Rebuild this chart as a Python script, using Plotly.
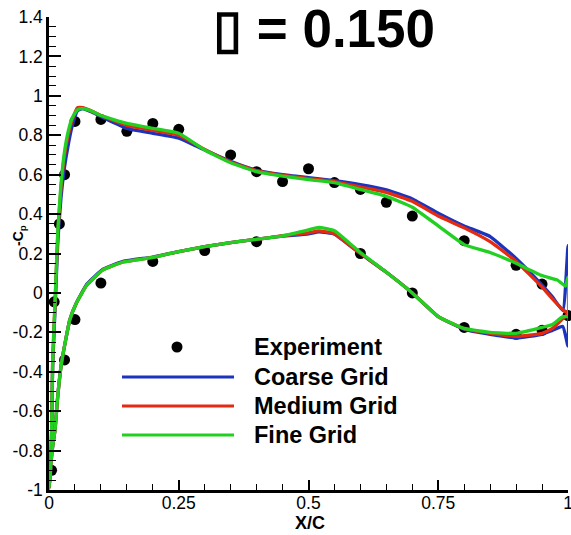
import plotly.graph_objects as go

# ---------------- data ----------------
# Experimental pressure coefficient (-Cp) on both surfaces
EXP_X = [0.005, 0.01, 0.02, 0.03, 0.05, 0.10, 0.15, 0.20, 0.25, 0.35, 0.40, 0.45, 0.50,
         0.55, 0.60, 0.65, 0.70, 0.80, 0.90, 0.95, 1.00,
         0.03, 0.05, 0.10, 0.20, 0.30, 0.40, 0.60, 0.70, 0.80, 0.90, 0.95]
EXP_CP = [-0.90, -0.045, 0.35, 0.60, 0.87, 0.88, 0.82, 0.86, 0.83, 0.70, 0.615, 0.565, 0.63,
          0.56, 0.525, 0.46, 0.39, 0.265, 0.14, 0.045, -0.115,
          -0.34, -0.135, 0.05, 0.16, 0.215, 0.26, 0.20, 0.0, -0.175, -0.21, -0.19]

# Upper-surface stations (leading edge -> trailing edge)
XU = [0.0, 0.003, 0.005, 0.007, 0.012, 0.017, 0.023, 0.03, 0.037, 0.045, 0.055, 0.065,
      0.08, 0.1, 0.15, 0.2, 0.25, 0.3, 0.35, 0.4, 0.45, 0.5, 0.55, 0.6, 0.65, 0.7, 0.75,
      0.8, 0.85, 0.9, 0.95]
# Lower-surface stations (leading edge -> trailing edge)
XL = [0.0, 0.003, 0.007, 0.0116, 0.017, 0.024, 0.032, 0.04, 0.053, 0.073, 0.104, 0.143,
      0.2, 0.25, 0.3, 0.35, 0.4, 0.45, 0.5, 0.52, 0.55, 0.58, 0.6, 0.65, 0.7, 0.75, 0.8,
      0.85, 0.9, 0.95]

COARSE_U = [-0.99, -0.9, -0.72, -0.38, -0.06, 0.26, 0.48, 0.64, 0.75, 0.85, 0.925, 0.935,
            0.92, 0.895, 0.835, 0.81, 0.785, 0.725, 0.668, 0.622, 0.60, 0.585, 0.57, 0.55,
            0.523, 0.477, 0.405, 0.34, 0.286, 0.175, 0.04]
MEDIUM_U = [-0.99, -0.9, -0.7, -0.35, -0.03, 0.30, 0.53, 0.70, 0.80, 0.88, 0.94, 0.94,
            0.925, 0.90, 0.85, 0.825, 0.80, 0.728, 0.664, 0.62, 0.597, 0.58, 0.565, 0.537,
            0.51, 0.465, 0.39, 0.33, 0.26, 0.16, 0.03]
FINE_U = [-0.99, -0.9, -0.7, -0.35, -0.02, 0.32, 0.55, 0.72, 0.82, 0.89, 0.93, 0.935,
          0.925, 0.90, 0.86, 0.835, 0.81, 0.725, 0.66, 0.615, 0.592, 0.575, 0.56, 0.525,
          0.49, 0.435, 0.34, 0.245, 0.205, 0.15, 0.088]

COARSE_L = [-0.99, -0.88, -0.78, -0.695, -0.52, -0.357, -0.24, -0.137, -0.05, 0.045, 0.12,
            0.16, 0.182, 0.21, 0.235, 0.255, 0.272, 0.288, 0.30, 0.31, 0.298, 0.24, 0.20,
            0.105, 0.0, -0.12, -0.185, -0.21, -0.228, -0.21]
MEDIUM_L = [-0.99, -0.88, -0.78, -0.695, -0.52, -0.357, -0.24, -0.137, -0.05, 0.04, 0.117,
            0.157, 0.18, 0.21, 0.235, 0.255, 0.272, 0.29, 0.305, 0.315, 0.30, 0.24, 0.20,
            0.105, 0.0, -0.12, -0.182, -0.205, -0.22, -0.205]
FINE_L = [-0.99, -0.88, -0.78, -0.695, -0.52, -0.357, -0.24, -0.137, -0.05, 0.04, 0.117,
          0.157, 0.18, 0.21, 0.235, 0.255, 0.272, 0.29, 0.32, 0.333, 0.315, 0.25, 0.205,
          0.105, 0.0, -0.12, -0.18, -0.20, -0.205, -0.175]

# Trailing-edge closure of each solution
COARSE_TE_UX, COARSE_TE_U = [0.97, 0.99, 1.0, 1.0], [-0.02, -0.09, 0.24, -0.27]
COARSE_TE_LX, COARSE_TE_L = [0.97, 0.99, 1.0], [-0.19, -0.17, -0.27]
MEDIUM_TE_UX, MEDIUM_TE_U = [0.97, 0.99, 1.0], [-0.03, -0.085, -0.105]
MEDIUM_TE_LX, MEDIUM_TE_L = [0.97, 0.99, 1.0], [-0.18, -0.13, -0.105]
FINE_TE_UX, FINE_TE_U = [0.98, 0.995, 1.0, 1.0], [0.065, 0.035, 0.08, -0.12]
FINE_TE_LX, FINE_TE_L = [0.97, 0.99, 1.0], [-0.16, -0.12, -0.12]

SERIES = ["Coarse Grid", "Medium Grid", "Fine Grid"]
COLORS = ["#1c34bd", "#e42a10", "#22d022"]

X_TICKS = [0, 0.25, 0.5, 0.75, 1]
X_TICK_TEXT = ["0", "0.25", "0.5", "0.75", "1"]
Y_TICKS = [-1, -0.8, -0.6, -0.4, -0.2, 0, 0.2, 0.4, 0.6, 0.8, 1, 1.2, 1.4]
Y_TICK_TEXT = ["-1", "-0.8", "-0.6", "-0.4", "-0.2", "0", "0.2", "0.4", "0.6", "0.8", "1",
               "1.2", "1.4"]


def loop(xu, cu, teux, teu, xl, cl, telx, tel):
    """Trailing edge -> lower surface -> leading edge -> upper surface -> trailing edge."""
    lx = list(xl) + telx
    lc = list(cl) + tel
    ux = list(xu) + teux
    uc = list(cu) + teu
    return lx[::-1] + ux[1:], lc[::-1] + uc[1:]


curves = [
    loop(XU, COARSE_U, COARSE_TE_UX, COARSE_TE_U, XL, COARSE_L, COARSE_TE_LX, COARSE_TE_L),
    loop(XU, MEDIUM_U, MEDIUM_TE_UX, MEDIUM_TE_U, XL, MEDIUM_L, MEDIUM_TE_LX, MEDIUM_TE_L),
    loop(XU, FINE_U, FINE_TE_UX, FINE_TE_U, XL, FINE_L, FINE_TE_LX, FINE_TE_L),
]

FONT = "Arial, Liberation Sans, Helvetica, sans-serif"

fig = go.Figure()

fig.add_trace(go.Scatter(
    x=EXP_X, y=EXP_CP, mode="markers", name="Experiment",
    marker=dict(color="black", size=11), cliponaxis=False, showlegend=False))

for (cx, cy), name, col in zip(curves, SERIES, COLORS):
    fig.add_trace(go.Scatter(
        x=cx, y=cy, mode="lines", name=name,
        line=dict(color=col, width=3.3, shape="spline", smoothing=0.4),
        showlegend=False))

# ---- hand-laid legend (long line samples) ----
def px_x(p):
    return (p - 49) / 519.0


def px_y(p):
    return (490 - p) / 473.0


rows = [347, 377, 406, 435]
labels = ["Experiment"] + SERIES
shapes = []
annotations = []
shapes.append(dict(type="circle", xref="paper", yref="paper",
                   x0=px_x(171.5), x1=px_x(182.5), y0=px_y(352.5), y1=px_y(341.5),
                   fillcolor="black", line=dict(color="black", width=0)))
for r, col in zip(rows[1:], COLORS):
    shapes.append(dict(type="line", xref="paper", yref="paper",
                       x0=px_x(122), x1=px_x(234), y0=px_y(r), y1=px_y(r),
                       line=dict(color=col, width=3)))
for r, lab in zip(rows, labels):
    annotations.append(dict(text="<b>%s</b>" % lab, xref="paper", yref="paper",
                            x=px_x(252), y=px_y(r), xanchor="left", yanchor="middle",
                            showarrow=False, font=dict(family=FONT, size=23.5, color="black")))

# title
annotations.append(dict(text="<b>\u25af = 0.150</b>", xref="paper", yref="paper",
                        x=px_x(324), y=px_y(29), xanchor="center", yanchor="middle",
                        showarrow=False, font=dict(family=FONT, size=53, color="black")))
# axis titles
annotations.append(dict(text="<b>-C<sub>p</sub></b>", xref="paper", yref="paper",
                        x=px_x(19), y=px_y(236), xanchor="center", yanchor="middle",
                        textangle=-90, showarrow=False,
                        font=dict(family=FONT, size=14, color="black")))
annotations.append(dict(text="<b>X/C</b>", xref="paper", yref="paper",
                        x=px_x(310), y=px_y(523), xanchor="center", yanchor="middle",
                        showarrow=False, font=dict(family=FONT, size=18, color="black")))

fig.update_layout(
    width=571, height=535,
    margin=dict(l=49, r=3, t=17, b=45, autoexpand=False),
    paper_bgcolor="white", plot_bgcolor="white",
    shapes=shapes, annotations=annotations,
    font=dict(family=FONT, color="black"),
)

fig.update_xaxes(
    range=[0, 1], tickmode="array", tickvals=X_TICKS, ticktext=X_TICK_TEXT,
    ticks="inside", ticklen=10, tickwidth=2, tickcolor="black",
    showline=True, linewidth=3, linecolor="black", mirror=False,
    showgrid=False, zeroline=False, ticklabeloverflow="allow", automargin=False,
    ticklabelstandoff=-5,
    tickfont=dict(family=FONT, size=17.5, color="black"),
    minor=dict(tick0=0, dtick=0.05, ticks="inside", ticklen=6, tickwidth=1.3,
               tickcolor="black", showgrid=False),
)
fig.update_yaxes(
    range=[-1, 1.4], tickmode="array", tickvals=Y_TICKS, ticktext=Y_TICK_TEXT,
    ticks="inside", ticklen=12, tickwidth=2, tickcolor="black",
    showline=True, linewidth=2.5, linecolor="black", mirror=False,
    showgrid=False, zeroline=False, ticklabeloverflow="allow", automargin=False,
    tickfont=dict(family=FONT, size=17.5, color="black"),
    minor=dict(tick0=0, dtick=0.05, ticks="inside", ticklen=7, tickwidth=1.3,
               tickcolor="black", showgrid=False),
)

fig.write_html("out.html")
